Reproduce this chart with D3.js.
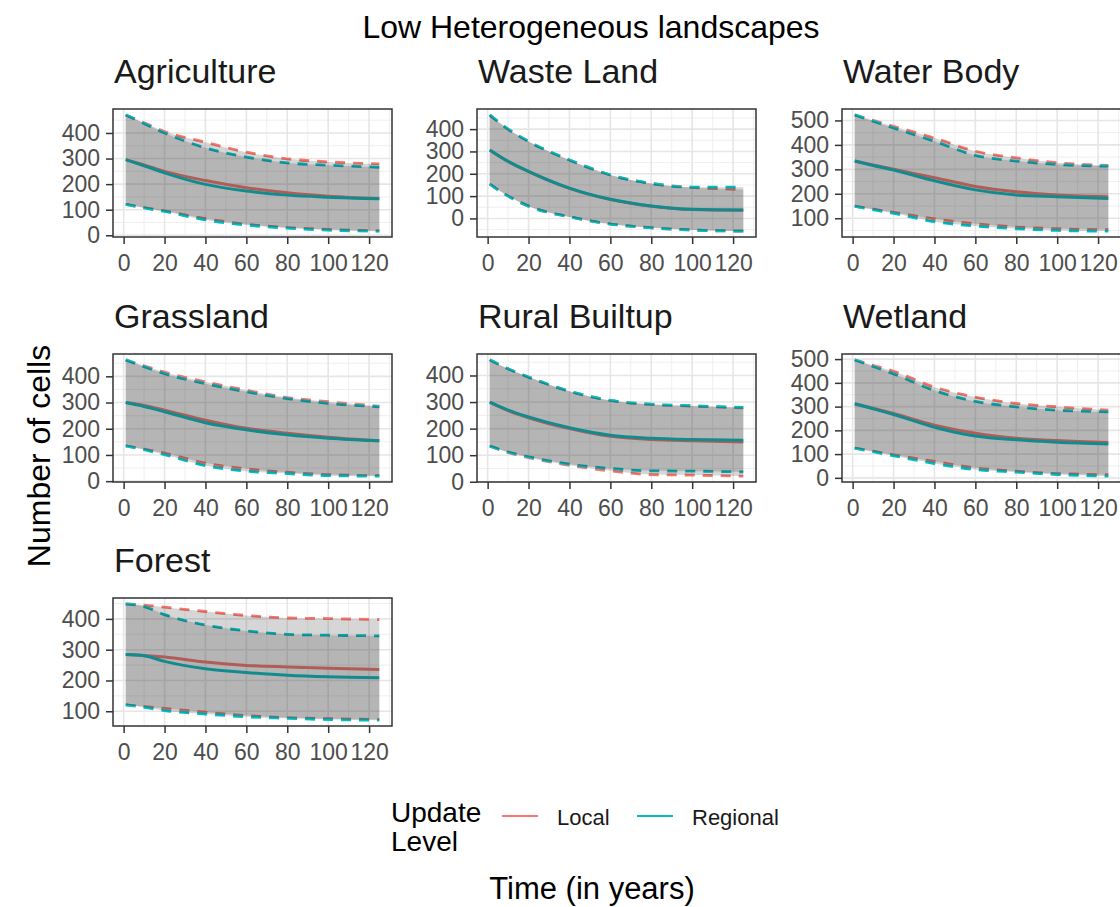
<!DOCTYPE html>
<html>
<head>
<meta charset="utf-8">
<script src="https://cdn.jsdelivr.net/npm/d3@7"></script>
<style>
  html, body { margin: 0; padding: 0; background: #fff; }
  svg { display: block; font-family: "Liberation Sans", Arial, sans-serif; }
</style>
</head>
<body>
<svg id="chart" width="1120" height="907"></svg>
<script>
// Simulation output: number of cells per land-use class over time,
// mean trajectory with lower/upper bounds for each update level.
const years = [1, 10, 20, 40, 60, 80, 100, 125];
const landscapes = ["Agriculture", "Waste Land", "Water Body", "Grassland", "Rural Builtup", "Wetland", "Forest"];
const updateLevels = ["Local", "Regional"];
const xTicks = [0, 20, 40, 60, 80, 100, 120];

// One row per landscape, in the order of `landscapes`
const localMean = [
  [296, 275, 250, 214, 186, 166, 153, 144],
  [307, 255, 210, 135, 85, 55, 40, 37],
  [334, 318, 300, 266, 230, 208, 195, 188],
  [300, 289, 271, 233, 202, 183, 168, 154],
  [300, 268, 241, 200, 171, 159, 154, 150],
  [312, 293, 271, 222, 188, 167, 157, 149],
  [284, 281, 276, 260, 249, 244, 240, 236]
];
const localLower = [
  [121, 108, 95, 65, 43, 30, 23, 17],
  [154, 100, 55, 7, -25, -42, -52, -57],
  [149, 137, 124, 97, 77, 64, 57, 53],
  [135, 122, 107, 69, 47, 34, 25, 21],
  [134, 110, 91, 62, 41, 27, 25, 21],
  [125, 112, 97, 69, 42, 28, 18, 13],
  [121, 115, 109, 97, 86, 79, 76, 73]
];
const localUpper = [
  [470, 440, 406, 364, 325, 299, 287, 279],
  [464, 400, 345, 262, 195, 157, 139, 130],
  [523, 500, 476, 428, 374, 347, 327, 316],
  [463, 440, 416, 379, 347, 319, 303, 286],
  [459, 425, 394, 341, 306, 291, 285, 278],
  [497, 474, 449, 382, 340, 313, 299, 285],
  [449, 445, 438, 424, 411, 403, 401, 398]
];
const regionalMean = [
  [296, 272, 244, 199, 173, 157, 149, 143],
  [307, 256, 211, 136, 86, 56, 41, 38],
  [334, 316, 297, 253, 216, 195, 188, 181],
  [300, 285, 265, 223, 196, 177, 164, 154],
  [300, 270, 244, 203, 175, 164, 159, 156],
  [312, 291, 267, 213, 176, 160, 150, 143],
  [284, 280, 262, 238, 226, 217, 212, 209]
];
const regionalLower = [
  [121, 107, 93, 60, 40, 28, 20, 16],
  [154, 100, 55, 7, -25, -42, -52, -57],
  [149, 135, 120, 86, 68, 57, 50, 47],
  [135, 120, 101, 59, 38, 29, 21, 19],
  [134, 112, 94, 66, 50, 41, 40, 37],
  [125, 110, 93, 60, 35, 24, 14, 7],
  [121, 113, 102, 91, 82, 77, 73, 71]
];
const regionalUpper = [
  [471, 437, 400, 342, 306, 283, 274, 266],
  [464, 400, 345, 262, 195, 157, 140, 140],
  [523, 497, 469, 415, 357, 334, 320, 313],
  [463, 437, 410, 372, 341, 315, 297, 284],
  [459, 425, 394, 341, 306, 292, 286, 280],
  [497, 469, 438, 368, 322, 299, 285, 278],
  [449, 440, 414, 380, 361, 350, 347, 345]
];

// ---- layout ----
const colLeft = [113, 477, 842];
const rowTop = [109, 354, 598];
const panelW = 279, panelH = 128;
const colors = d3.scaleOrdinal().domain(updateLevels).range(["#F8766D", "#00BFC4"]);
const font = '"Liberation Sans", Arial, sans-serif';

const svg = d3.select("#chart");

svg.append("text")
  .attr("x", 591).attr("y", 38)
  .attr("text-anchor", "middle")
  .attr("font-size", 32).attr("fill", "#000")
  .text("Low Heterogeneous landscapes");

const series = [
  { level: "Local", mean: localMean, lower: localLower, upper: localUpper },
  { level: "Regional", mean: regionalMean, lower: regionalLower, upper: regionalUpper }
];

const xDomain = (() => {
  const [a, b] = d3.extent(years);
  const pad = (b - a) * 0.05;
  return [a - pad, b + pad];
})();

landscapes.forEach((name, i) => {
  const col = i % 3, row = Math.floor(i / 3);
  const left = colLeft[col], top = rowTop[row];
  const g = svg.append("g").attr("transform", `translate(${left},${top})`);

  const all = series.flatMap(s => [...s.lower[i], ...s.upper[i], ...s.mean[i]]);
  const [lo, hi] = d3.extent(all);
  const pad = (hi - lo) * 0.05;
  const y = d3.scaleLinear().domain([lo - pad, hi + pad]).range([panelH, 0]);
  const x = d3.scaleLinear().domain(xDomain).range([0, panelW]);

  const clipId = "clip" + i;
  g.append("clipPath").attr("id", clipId)
    .append("rect").attr("width", panelW).attr("height", panelH);

  // background + grid
  g.append("rect").attr("width", panelW).attr("height", panelH).attr("fill", "#fff");
  const yMajor = y.ticks(5);
  const step = yMajor[1] - yMajor[0];
  const yMinor = d3.range(yMajor[0] - step / 2, hi + pad, step).filter(v => v > lo - pad && v < hi + pad);
  const xMinor = d3.range(xTicks[0] - 10, xDomain[1], 20).filter(v => v > xDomain[0] && v < xDomain[1]);
  const grid = g.append("g");
  grid.selectAll(".ymn").data(yMinor).join("line")
    .attr("x1", 0).attr("x2", panelW).attr("y1", d => y(d)).attr("y2", d => y(d))
    .attr("stroke", "#ededed").attr("stroke-width", 0.9);
  grid.selectAll(".xmn").data(xMinor).join("line")
    .attr("y1", 0).attr("y2", panelH).attr("x1", d => x(d)).attr("x2", d => x(d))
    .attr("stroke", "#ededed").attr("stroke-width", 0.9);
  grid.selectAll(".ymj").data(yMajor).join("line")
    .attr("x1", 0).attr("x2", panelW).attr("y1", d => y(d)).attr("y2", d => y(d))
    .attr("stroke", "#e6e6e6").attr("stroke-width", 1.6);
  grid.selectAll(".xmj").data(xTicks).join("line")
    .attr("y1", 0).attr("y2", panelH).attr("x1", d => x(d)).attr("x2", d => x(d))
    .attr("stroke", "#e6e6e6").attr("stroke-width", 1.6);

  const plot = g.append("g").attr("clip-path", `url(#${clipId})`);
  const line = d3.line().x((d, k) => x(years[k])).y(d => y(d)).curve(d3.curveMonotoneX);
  const area = d3.area().x((d, k) => x(years[k]))
    .y0((d, k) => y(d[0])).y1((d, k) => y(d[1])).curve(d3.curveMonotoneX);

  // lines first, shaded bands drawn on top
  series.forEach(s => {
    plot.append("path").attr("d", line(s.mean[i]))
      .attr("fill", "none").attr("stroke", colors(s.level)).attr("stroke-width", 3);
    [s.upper[i], s.lower[i]].forEach(b => {
      plot.append("path").attr("d", line(b))
        .attr("fill", "none").attr("stroke", colors(s.level)).attr("stroke-width", 2.8)
        .attr("stroke-dasharray", "10,8");
    });
  });
  series.forEach(s => {
    const band = s.lower[i].map((v, k) => [v, s.upper[i][k]]);
    plot.append("path").attr("d", area(band))
      .attr("fill", "#333333").attr("fill-opacity", 0.2);
  });

  // border
  g.append("rect").attr("width", panelW).attr("height", panelH)
    .attr("fill", "none").attr("stroke", "#333").attr("stroke-width", 1.5);

  // axes
  const yAxis = g.append("g").call(d3.axisLeft(y).tickValues(yMajor).tickSize(7).tickPadding(6).tickFormat(d3.format("d")));
  const xAxis = g.append("g").attr("transform", `translate(0,${panelH})`)
    .call(d3.axisBottom(x).tickValues(xTicks).tickSize(7).tickPadding(5).tickFormat(d3.format("d")));
  [yAxis, xAxis].forEach(a => {
    a.select(".domain").remove();
    a.selectAll(".tick line").attr("stroke", "#333").attr("stroke-width", 1.5);
    a.selectAll(".tick text").attr("fill", "#4d4d4d").attr("font-size", 23).attr("font-family", font);
  });
  xAxis.selectAll(".tick text").attr("dy", "0.95em");

  // facet title
  g.append("text").attr("x", 1).attr("y", -26)
    .attr("font-size", 34).attr("fill", "#1a1a1a").text(name);
});

// axis titles
svg.append("text")
  .attr("transform", "translate(50,456) rotate(-90)")
  .attr("text-anchor", "middle").attr("font-size", 32).attr("fill", "#000")
  .text("Number of cells");
svg.append("text")
  .attr("x", 592).attr("y", 899)
  .attr("text-anchor", "middle").attr("font-size", 31).attr("fill", "#000")
  .text("Time (in years)");

// legend
const legend = svg.append("g");
legend.append("text").attr("x", 391).attr("y", 822).attr("font-size", 28).text("Update");
legend.append("text").attr("x", 391).attr("y", 851).attr("font-size", 28).text("Level");
const keyX = d3.scaleOrdinal().domain(updateLevels).range([502, 637]);
updateLevels.forEach(l => {
  legend.append("line").attr("x1", keyX(l)).attr("x2", keyX(l) + 36)
    .attr("y1", 816).attr("y2", 816)
    .attr("stroke", colors(l)).attr("stroke-width", 2.2);
  legend.append("text").attr("x", keyX(l) + 55).attr("y", 825)
    .attr("font-size", 22).attr("fill", "#1a1a1a").text(l);
});
</script>
</body>
</html>
